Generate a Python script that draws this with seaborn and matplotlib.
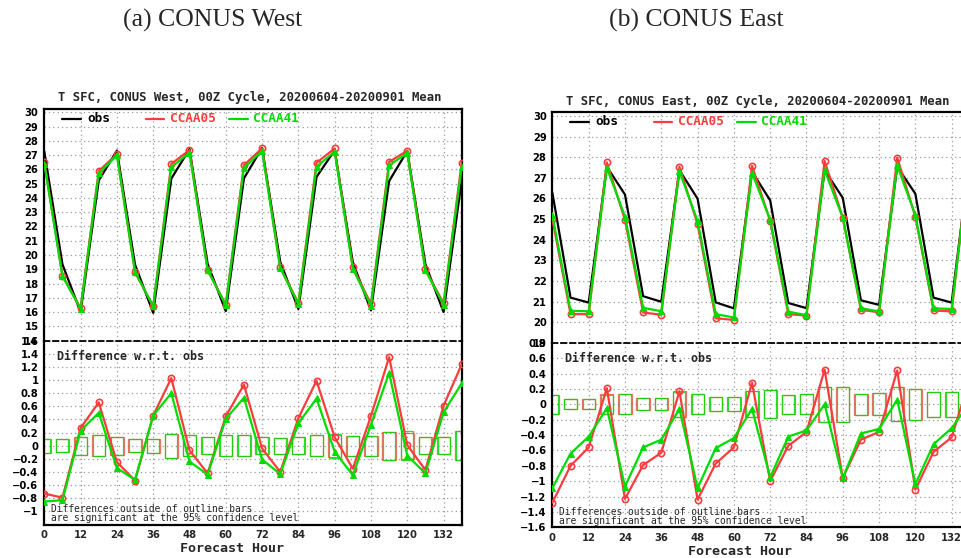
import matplotlib
matplotlib.use("Agg")
import matplotlib.pyplot as plt
import seaborn as sns
import numpy as np

sns.set_style("white")

# ---------------- data ----------------
hours = [0, 6, 12, 18, 24, 30, 36, 42, 48, 54, 60, 66,
         72, 78, 84, 90, 96, 102, 108, 114, 120, 126, 132, 138]

west_obs = [27.26, 19.35, 16.00, 25.22, 27.32, 19.33, 15.95, 25.36, 27.42, 19.38, 16.07, 25.37,
            27.51, 19.53, 16.22, 25.47, 27.34, 19.50, 16.12, 25.18, 27.29, 19.36, 16.01, 25.24]
west_ccaa05 = [26.53, 18.56, 16.27, 25.88, 27.07, 18.80, 16.41, 26.39, 27.35, 18.96, 16.52, 26.30,
               27.47, 19.13, 16.64, 26.46, 27.47, 19.15, 16.57, 26.53, 27.30, 18.99, 16.62, 26.48]
west_ccaa41 = [26.41, 18.52, 16.23, 25.72, 26.98, 18.81, 16.41, 26.16, 27.18, 18.94, 16.48, 26.10,
               27.30, 19.10, 16.56, 26.19, 27.25, 19.05, 16.44, 26.29, 27.14, 18.94, 16.52, 26.19]
west_diff05 = [-0.73, -0.79, 0.27, 0.66, -0.25, -0.53, 0.46, 1.03, -0.07, -0.42, 0.45, 0.93,
               -0.04, -0.40, 0.42, 0.99, 0.13, -0.35, 0.45, 1.35, 0.01, -0.37, 0.61, 1.24]
west_diff41 = [-0.85, -0.83, 0.23, 0.50, -0.34, -0.52, 0.46, 0.80, -0.24, -0.44, 0.41, 0.73,
               -0.21, -0.43, 0.34, 0.72, -0.09, -0.45, 0.32, 1.11, -0.15, -0.42, 0.51, 0.95]
west_sig05 = [0.11, 0.10, 0.14, 0.16, 0.14, 0.10, 0.11, 0.18, 0.16, 0.13, 0.16, 0.16,
              0.13, 0.12, 0.13, 0.16, 0.17, 0.15, 0.15, 0.21, 0.20, 0.13, 0.13, 0.22]
west_sig41 = [0.11, 0.10, 0.14, 0.16, 0.14, 0.10, 0.11, 0.18, 0.16, 0.13, 0.16, 0.16,
              0.13, 0.12, 0.13, 0.16, 0.18, 0.15, 0.15, 0.21, 0.22, 0.13, 0.13, 0.22]

east_obs = [26.27, 21.19, 20.95, 27.54, 26.19, 21.26, 20.99, 27.37, 25.99, 20.96, 20.67, 27.30,
            25.91, 20.93, 20.68, 27.37, 26.03, 21.06, 20.84, 27.54, 26.23, 21.19, 20.95, 27.97]
east_ccaa05 = [24.99, 20.39, 20.39, 27.75, 24.96, 20.47, 20.36, 27.54, 24.75, 20.19, 20.11, 27.58,
               24.91, 20.39, 20.32, 27.82, 25.07, 20.60, 20.48, 27.98, 25.12, 20.57, 20.52, 28.30]
east_ccaa41 = [25.18, 20.55, 20.53, 27.49, 25.12, 20.70, 20.53, 27.31, 24.90, 20.39, 20.23, 27.24,
               24.96, 20.51, 20.34, 27.37, 25.07, 20.68, 20.52, 27.60, 25.19, 20.67, 20.64, 27.99]
east_diff05 = [-1.28, -0.80, -0.56, 0.21, -1.23, -0.79, -0.63, 0.17, -1.24, -0.77, -0.56, 0.28,
               -1.00, -0.54, -0.36, 0.45, -0.96, -0.46, -0.36, 0.44, -1.11, -0.62, -0.43, 0.33]
east_diff41 = [-1.09, -0.64, -0.42, -0.05, -1.07, -0.56, -0.46, -0.06, -1.09, -0.57, -0.44, -0.06,
               -0.95, -0.42, -0.34, 0.00, -0.96, -0.38, -0.32, 0.06, -1.04, -0.52, -0.31, 0.02]
east_sig05 = [0.12, 0.065, 0.065, 0.13, 0.13, 0.08, 0.08, 0.17, 0.13, 0.09, 0.09, 0.17,
              0.18, 0.12, 0.13, 0.23, 0.23, 0.14, 0.145, 0.22, 0.20, 0.16, 0.16, 0.20]
east_sig41 = [0.12, 0.065, 0.065, 0.12, 0.13, 0.08, 0.08, 0.16, 0.13, 0.09, 0.09, 0.17,
              0.18, 0.12, 0.13, 0.23, 0.23, 0.14, 0.145, 0.22, 0.20, 0.16, 0.16, 0.20]

xticks = [0, 12, 24, 36, 48, 60, 72, 84, 96, 108, 120, 132]
west_top_ticks = [14, 15, 16, 17, 18, 19, 20, 21, 22, 23, 24, 25, 26, 27, 28, 29, 30]
west_bot_ticks = [-1.0, -0.8, -0.6, -0.4, -0.2, 0.0, 0.2, 0.4, 0.6, 0.8, 1.0, 1.2, 1.4, 1.6]
east_top_ticks = [19, 20, 21, 22, 23, 24, 25, 26, 27, 28, 29, 30]
east_bot_ticks = [-1.6, -1.4, -1.2, -1.0, -0.8, -0.6, -0.4, -0.2, 0.0, 0.2, 0.4, 0.6, 0.8]

RED = (250 / 255, 60 / 255, 60 / 255)
GREEN = (0, 220 / 255, 0)
MONO = "DejaVu Sans Mono"
SANS = "DejaVu Sans"

W, H = 961, 558
fig = plt.figure(figsize=(W / 100, H / 100), dpi=100)


def add_axes(x0, y0, x1, y1):
    return fig.add_axes([x0 / W, 1 - y1 / H, (x1 - x0) / W, (y1 - y0) / H])


def fmt(v):
    if abs(v - round(v)) < 1e-9:
        s = str(int(round(v)))
    else:
        s = f"{v:.1f}"
    if s in ("-0", "-0.0"):
        s = "0"
    return s.replace("-", "\u2212")


def style_axis(ax, yticks, ylim):
    ax.set_xlim(0, 138)
    ax.set_ylim(*ylim)
    ax.set_yticks(yticks)
    ax.set_yticklabels([fmt(v) for v in yticks], fontfamily=SANS,
                       fontweight="bold", fontsize=7.2)
    ax.set_xticks(xticks)
    ax.grid(True, color="#9a9a9a", linestyle=(0, (1, 2.5)), linewidth=0.9)
    ax.tick_params(axis="y", direction="out", length=3, width=1, pad=1.2, colors="black")
    ax.set_xlabel("")
    ax.set_ylabel("")
    for sp in ax.spines.values():
        sp.set_color("black")
        sp.set_linewidth(1.6)


def panel(x0, x1, ytop, ymid, ybot, region, obs, c05, c41, d05, d41, s05, s41,
          tticks, tlim, bticks, blim, forecast_label_y):
    ax_t = add_axes(x0, ytop, x1, ymid)
    ax_b = add_axes(x0, ymid, x1, ybot)
    wpx = x1 - x0
    htop = ymid - ytop
    hbot = ybot - ymid

    # --- top panel: values ---
    sns.lineplot(x=hours, y=obs, ax=ax_t, color="black", linewidth=1.6, zorder=3)
    sns.lineplot(x=hours, y=c05, ax=ax_t, color=RED, linewidth=1.6, marker="o",
                 markersize=4.5, markerfacecolor="none", markeredgecolor=RED,
                 markeredgewidth=1.2, zorder=4)
    sns.lineplot(x=hours, y=c41, ax=ax_t, color=GREEN, linewidth=1.6, marker="^",
                 markersize=4, markerfacecolor=GREEN, markeredgecolor=GREEN, zorder=5)
    style_axis(ax_t, tticks, tlim)
    ax_t.tick_params(axis="x", length=0, labelbottom=False)
    ax_t.spines["bottom"].set_visible(False)

    # --- bottom panel: differences ---
    ax_b.bar(hours, [2 * s for s in s05], bottom=[-s for s in s05], width=4.4,
             fill=False, edgecolor=RED, linewidth=0.9, alpha=0.75, zorder=2)
    ax_b.bar(hours, [2 * s for s in s41], bottom=[-s for s in s41], width=4.0,
             fill=False, edgecolor=GREEN, linewidth=0.9, alpha=0.85, zorder=2)
    sns.lineplot(x=hours, y=d05, ax=ax_b, color=RED, linewidth=1.6, marker="o",
                 markersize=4.5, markerfacecolor="none", markeredgecolor=RED,
                 markeredgewidth=1.2, zorder=4)
    sns.lineplot(x=hours, y=d41, ax=ax_b, color=GREEN, linewidth=1.6, marker="^",
                 markersize=4, markerfacecolor=GREEN, markeredgecolor=GREEN, zorder=5)
    style_axis(ax_b, bticks, blim)
    ax_b.set_xticklabels([str(v) for v in xticks], fontfamily=SANS,
                         fontweight="bold", fontsize=7.2)
    ax_b.tick_params(axis="x", direction="out", length=2, width=1, pad=2)
    ax_b.spines["top"].set_linestyle((0, (3, 2)))
    ax_b.spines["top"].set_linewidth(1.3)

    # --- title ---
    ax_t.text(205 / wpx, 1 + 11 / htop,
              f"T SFC, CONUS {region}, 00Z Cycle, 20200604-20200901 Mean",
              transform=ax_t.transAxes, ha="center", va="center",
              fontfamily=MONO, fontweight="bold", fontsize=8.8)

    # --- legend ---
    ly = 1 - 9.6 / htop
    entries = [(17.7, 36.7, 42.7, "obs", "black"),
               (101.7, 119.7, 125.7, "CCAA05", RED),
               (184.7, 203.7, 208.7, "CCAA41", GREEN)]
    for a, b, t, lab, col in entries:
        ax_t.plot([a / wpx, b / wpx], [ly, ly], transform=ax_t.transAxes,
                  color=col, linewidth=1.6, clip_on=False)
        ax_t.text(t / wpx, ly, lab, transform=ax_t.transAxes, ha="left",
                  va="center", color=col, fontfamily=MONO, fontweight="bold",
                  fontsize=9.2)

    # --- bottom annotations ---
    ax_b.text(12.4 / wpx, 1 - 15.4 / hbot, "Difference w.r.t. obs",
              transform=ax_b.transAxes, ha="left", va="center",
              fontfamily=MONO, fontweight="bold", fontsize=8.4)
    ax_b.text(6.4 / wpx, 15.5 / hbot, "Differences outside of outline bars",
              transform=ax_b.transAxes, ha="left", va="center",
              fontfamily=MONO, fontsize=6.9)
    ax_b.text(6.4 / wpx, 6.6 / hbot, "are significant at the 95% confidence level",
              transform=ax_b.transAxes, ha="left", va="center",
              fontfamily=MONO, fontsize=6.9)
    ax_b.text(62, 0, "Forecast Hour",
              transform=ax_b.get_xaxis_transform(), ha="center", va="center",
              fontfamily=MONO, fontweight="bold", fontsize=9.6)
    ax_b.texts[-1].set_position((62, -forecast_label_y / hbot))
    return ax_t, ax_b


panel(44.3, 461.7, 109.0, 340.7, 524.5, "West",
      west_obs, west_ccaa05, west_ccaa41, west_diff05, west_diff41,
      west_sig05, west_sig41,
      west_top_ticks, (14, 30.23), west_bot_ticks, (-1.2, 1.6), 24.5)

panel(552.4, 969.8, 112.3, 342.8, 527.3, "East",
      east_obs, east_ccaa05, east_ccaa41, east_diff05, east_diff41,
      east_sig05, east_sig41,
      east_top_ticks, (19, 30.18), east_bot_ticks, (-1.6, 0.8), 24.0)

fig.text(213 / W, 1 - 20 / H, "(a) CONUS West", ha="center", va="center",
         fontfamily="Liberation Serif", fontsize=18.5)
fig.text(696 / W, 1 - 20 / H, "(b) CONUS East", ha="center", va="center",
         fontfamily="Liberation Serif", fontsize=18.5)

fig.savefig("out.png", dpi=100)
